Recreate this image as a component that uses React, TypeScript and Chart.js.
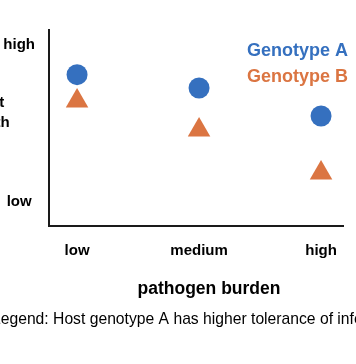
import React, { useEffect, useRef } from "react";
import { Chart, registerables } from "chart.js";

Chart.register(...registerables);

const categories = ["low", "medium", "high"];
const yTickLabels = ["low", "high"];
const seriesNames = ["Genotype A", "Genotype B"];
const genotypeA = [5.79, 5.28, 4.21];
const genotypeB = [4.78, 3.67, 2.03];
const yTitleLines = ["Host", "health"];
const xTitle = "pathogen burden";
const caption = "Legend: Host genotype A has higher tolerance of infection.";

const BLUE = "#3570bf";
const ORANGE = "#db7542";
const FAMILY = '"Liberation Sans", Arial, Helvetica, sans-serif';

const textPlugin = {
  id: "textPlugin",
  afterDraw(chart: any) {
    const ctx = chart.ctx;
    ctx.save();
    ctx.fillStyle = "#000";
    // y title (horizontal, centered lines)
    ctx.font = `bold 15px ${FAMILY}`;
    ctx.textAlign = "center";
    ctx.textBaseline = "alphabetic";
    ctx.fillText(yTitleLines[0], -12.5, 107);
    ctx.fillText(yTitleLines[1], -12.5, 127);
    // x title
    ctx.font = `bold 17.5px ${FAMILY}`;
    ctx.fillText(xTitle, 209, 294);
    // caption
    ctx.font = `15.7px ${FAMILY}`;
    ctx.textAlign = "left";
    ctx.fillText(caption, -8, 324);
    // legend
    ctx.font = `bold 18px ${FAMILY}`;
    chart.data.datasets.forEach((ds: any, i: number) => {
      ctx.fillStyle = ds.backgroundColor;
      ctx.fillText(ds.label, 247, 56 + i * 26);
    });
    ctx.restore();
  },
};

export default function App() {
  const ref = useRef<HTMLCanvasElement | null>(null);
  useEffect(() => {
    if (!ref.current) return;
    Chart.defaults.font.family = FAMILY;
    const chart = new Chart(ref.current, {
      type: "scatter",
      data: {
        datasets: [
          {
            label: seriesNames[0],
            data: genotypeA.map((v, i) => ({ x: i, y: v })),
            backgroundColor: BLUE,
            borderColor: BLUE,
            pointStyle: "circle",
            pointRadius: 10.5,
            borderWidth: 0,
          },
          {
            label: seriesNames[1],
            data: genotypeB.map((v, i) => ({ x: i, y: v })),
            backgroundColor: ORANGE,
            borderColor: ORANGE,
            pointStyle: "triangle",
            pointRadius: 13,
            borderWidth: 0,
          },
        ],
      },
      options: {
        animation: false,
        responsive: false,
        layout: { padding: { top: 30, right: 12, left: 0, bottom: 0 } },
        plugins: { legend: { display: false }, tooltip: { enabled: false } },
        scales: {
          x: {
            type: "linear",
            min: -0.23,
            max: 2.18,
            afterBuildTicks: (s: any) => {
              s.ticks = categories.map((_, i) => ({ value: i }));
            },
            afterFit: (s: any) => {
              s.height = 138;
            },
            grid: { display: false, drawTicks: false },
            border: { display: true, color: "#1a1a1a", width: 2 },
            ticks: {
              padding: 16,
              color: "#000",
              font: { size: 15, weight: "bold" },
              callback: (v: any) => categories[Math.round(v)] ?? "",
              maxRotation: 0,
            },
          },
          y: {
            type: "linear",
            min: 0,
            max: 7.5,
            afterBuildTicks: (s: any) => {
              s.ticks = [{ value: 1 }, { value: 7 }];
            },
            afterFit: (s: any) => {
              s.width = 49;
            },
            grid: { display: false, drawTicks: false },
            border: { display: true, color: "#1a1a1a", width: 2 },
            ticks: {
              padding: 14,
              labelOffset: 2,
              crossAlign: "center",
              color: "#000",
              font: { size: 15, weight: "bold" },
              callback: (v: any) => (v === 1 ? yTickLabels[0] : v === 7 ? yTickLabels[1] : ""),
            },
          },
        },
      },
      plugins: [textPlugin],
    } as any);
    return () => chart.destroy();
  }, []);
  return (
    <div style={{ position: "absolute", left: 0, top: 0, width: 356, height: 364, background: "#fff" }}>
      <canvas ref={ref} width={356} height={364} style={{ display: "block", width: 356, height: 364 }} />
    </div>
  );
}
